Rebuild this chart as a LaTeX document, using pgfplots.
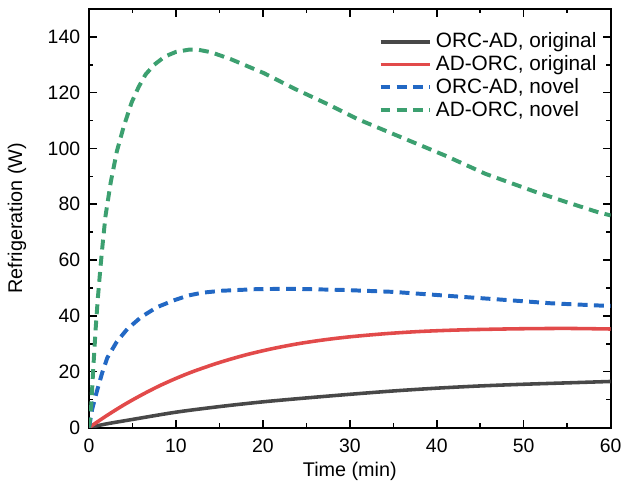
\documentclass[border=0pt]{standalone}
\usepackage{pgfplots}
\pgfplotsset{compat=1.18}
\usepackage{fontspec}
\setmainfont{Liberation Sans}

\definecolor{cblack}{RGB}{72,72,72}
\definecolor{cred}{RGB}{226,74,74}
\definecolor{cblue}{RGB}{34,104,196}
\definecolor{cgreen}{RGB}{60,160,112}

\begin{document}
\begin{tikzpicture}
\begin{axis}[
  scale only axis,
  width=263.5pt, height=211.5pt,
  xmin=0, xmax=60, ymin=0, ymax=150,
  xtick={0,10,...,60}, ytick={0,20,...,140},
  minor x tick num=1, minor y tick num=1,
  tick align=inside,
  major tick length=4pt, minor tick length=2.2pt,
  every tick/.style={black, line width=0.8pt},
  axis line style={line width=1pt},
  /pgf/number format/assume math mode=true,
  tick label style={font=\fontsize{9.8}{11}\selectfont},
  xticklabel style={yshift=-2pt},
  yticklabel style={xshift=-1pt},
  xlabel={Time (min)}, ylabel={Refrigeration (W)},
  label style={font=\fontsize{10}{12}\selectfont},
  xlabel style={yshift=2pt},
  ylabel style={yshift=4pt},
  legend style={at={(0.985,0.958)}, anchor=north east, draw=none, fill=none,
    font=\fontsize{10.5}{12}\selectfont, row sep=-1.6pt, inner sep=1pt},
  legend cell align=left,
  legend image code/.code={\draw[#1] (0pt,0pt) -- (25pt,0pt);},
]
% ORC-AD, original
\addplot[cblack, line width=1.8pt, smooth] coordinates {
(0,0) (2,1.3) (5,2.9) (10,5.5) (15,7.5) (20,9.2) (25,10.6) (30,11.9)
(35,13.1) (40,14.1) (45,14.9) (50,15.5) (55,16.0) (60,16.5)};
\addlegendentry{ORC-AD, original}
% AD-ORC, original
\addplot[cred, line width=1.8pt, smooth] coordinates {
(0,0) (2,4.2) (4,8.1) (6,11.6) (8,14.8) (10,17.6) (12,20.1) (15,23.3)
(18,26.0) (21,28.2) (24,30.0) (27,31.4) (30,32.5) (34,33.6) (38,34.4)
(42,34.9) (46,35.2) (50,35.4) (55,35.5) (60,35.3)};
\addlegendentry{AD-ORC, original}
% ORC-AD, novel
\addplot[cblue, line width=2pt, dash pattern=on 5pt off 3.2pt] coordinates {
(0,0) (0.35,6.5) (0.9,13) (1.5,19.5) (2.1,25) (3.2,30.8) (4.4,35.3) (6,39.6)
(7.8,43.1) (9.7,45.5) (11.4,47.3) (13,48.3) (15.2,49) (19.4,49.6) (23.5,49.7)
(29.2,49.3) (35,48.6) (39.5,47.6) (43,46.8) (47.1,45.9) (53.2,44.5)
(58.8,43.7) (60,43.6)};
\addlegendentry{ORC-AD, novel}
% AD-ORC, novel
\addplot[cgreen, line width=2pt, dash pattern=on 5pt off 3.2pt] coordinates {
(0,0) (0.25,8) (0.5,22) (0.75,35) (1.0,46) (1.3,57) (1.6,67) (1.9,76)
(2.5,88) (3.2,99) (4,108) (4.9,116.5) (5.7,122) (6.5,126.5) (7.5,130)
(8.7,132.9) (10,134.6) (11.5,135.4) (12.5,135.4) (14,134.5) (16.3,132)
(20.1,127) (23.7,121.3) (27.5,115.8) (30.9,110.5) (34.9,105.3) (38,101.3)
(41,97.4) (45.6,90.9) (51.3,84.5) (55,80.7) (58.5,77.2) (60,76)};
\addlegendentry{AD-ORC, novel}
\end{axis}
\path[use as bounding box] ([shift={(-45pt,-32pt)}]current axis.south west)
  rectangle ([shift={(5.5pt,4.5pt)}]current axis.north east);
\end{tikzpicture}
\end{document}
